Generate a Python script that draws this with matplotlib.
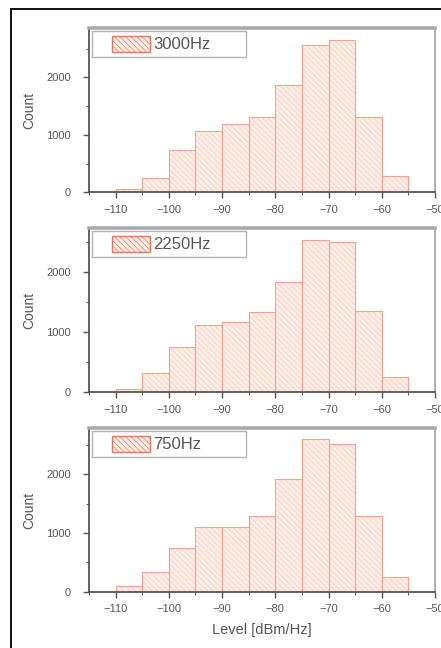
import matplotlib
matplotlib.use("Agg")
import matplotlib.pyplot as plt
from matplotlib.patches import Patch, Rectangle
from matplotlib.legend_handler import HandlerPatch
from matplotlib.ticker import MultipleLocator

# Histogram bins (dBm/Hz), 5 dB wide
bin_left = [-110, -105, -100, -95, -90, -85, -80, -75, -70, -65, -60]
bin_width = 5

counts_3000 = [50, 245, 735, 1065, 1195, 1315, 1865, 2555, 2640, 1315, 290]
counts_2250 = [50, 325, 760, 1120, 1165, 1345, 1845, 2540, 2500, 1355, 250]
counts_750 = [95, 340, 750, 1095, 1095, 1290, 1920, 2600, 2520, 1290, 245]

panels = [
    ("3000Hz", counts_3000, 2852),
    ("2250Hz", counts_2250, 2733),
    ("750Hz", counts_750, 2783),
]

FILL = "#fdeee8"
HATCH = "#f6c9bb"
EDGE = "#eea590"
LEG_EDGE = "#e07a60"
AX_DARK = "#555555"
TXT = "#555555"

plt.rcParams.update({
    "font.family": ["Liberation Sans", "DejaVu Sans"],
    "hatch.linewidth": 0.5,
})

W, H = 441, 648
fig = plt.figure(figsize=(W / 100, H / 100), dpi=100)

# axes boxes in pixels: (top, bottom)
boxes = [(28.3, 192.3), (228.3, 392.3), (428.3, 591.7)]
ax_left, ax_right = 89, 435


def legend_patch(legend, orig_handle, xdescent, ydescent, width, height, fontsize):
    off = 15 * 72 / 100  # points
    return Rectangle((-xdescent + off, -ydescent), width - off, height)


for i, ((label, counts, ytop), (t, b)) in enumerate(zip(panels, boxes)):
    ax = fig.add_axes([ax_left / W, 1 - b / H, (ax_right - ax_left) / W, (b - t) / H])
    ax.bar(bin_left, counts, width=bin_width, align="edge",
           facecolor=FILL, edgecolor=HATCH, hatch="\\\\\\\\\\\\", linewidth=0)
    ax.bar(bin_left, counts, width=bin_width, align="edge",
           fill=False, edgecolor=EDGE, linewidth=0.8)

    ax.set_xlim(-115, -50)
    ax.set_ylim(0, ytop)
    ax.set_xticks(range(-110, -49, 10))
    ax.xaxis.set_minor_locator(MultipleLocator(5))
    ax.set_yticks([0, 1000, 2000])
    ax.yaxis.set_minor_locator(MultipleLocator(500))
    ax.tick_params(which="major", direction="out", length=4, width=1,
                   colors=AX_DARK, labelcolor=TXT, labelsize=8)
    ax.tick_params(which="minor", direction="out", length=2.5, width=0.8,
                   colors=AX_DARK)
    ax.tick_params(axis="y", pad=9)
    ax.tick_params(axis="x", pad=5)

    for s in ("left", "bottom"):
        ax.spines[s].set_color(AX_DARK)
        ax.spines[s].set_linewidth(1.3)
    ax.spines["top"].set_color("#aaaaaa")
    ax.spines["top"].set_linewidth(2.6)
    ax.spines["right"].set_color("#9a9a9a")
    ax.spines["right"].set_linewidth(1.1)

    ax.set_ylabel("Count", fontsize=10, color=TXT, labelpad=7)

    handle = Patch(facecolor=FILL, edgecolor=LEG_EDGE, hatch="\\\\\\\\\\\\", linewidth=1.0)
    leg = ax.legend([handle], [label], loc="upper left",
                    bbox_to_anchor=(0.008, 0.0, 0.445, 0.985), mode="expand",
                    fontsize=12, frameon=True, fancybox=False, borderpad=0.3,
                    handlelength=3.2, handleheight=1.1, handletextpad=0.2,
                    borderaxespad=0.0,
                    handler_map={Patch: HandlerPatch(patch_func=legend_patch)})
    leg.get_frame().set_edgecolor("#a0a0a0")
    leg.get_frame().set_linewidth(1.0)
    for txt in leg.get_texts():
        txt.set_color(TXT)

    if i == 2:
        ax.set_xlabel("Level [dBm/Hz]", fontsize=10.5, color=TXT, labelpad=6)

# figure frame (cropped at right and bottom)
fig.patches.append(Rectangle((11 / W, -0.2), 1.2, 1.2 - 9 / H, transform=fig.transFigure,
                             fill=False, edgecolor="#111111", linewidth=1.4))

fig.savefig("out.png", dpi=100)
